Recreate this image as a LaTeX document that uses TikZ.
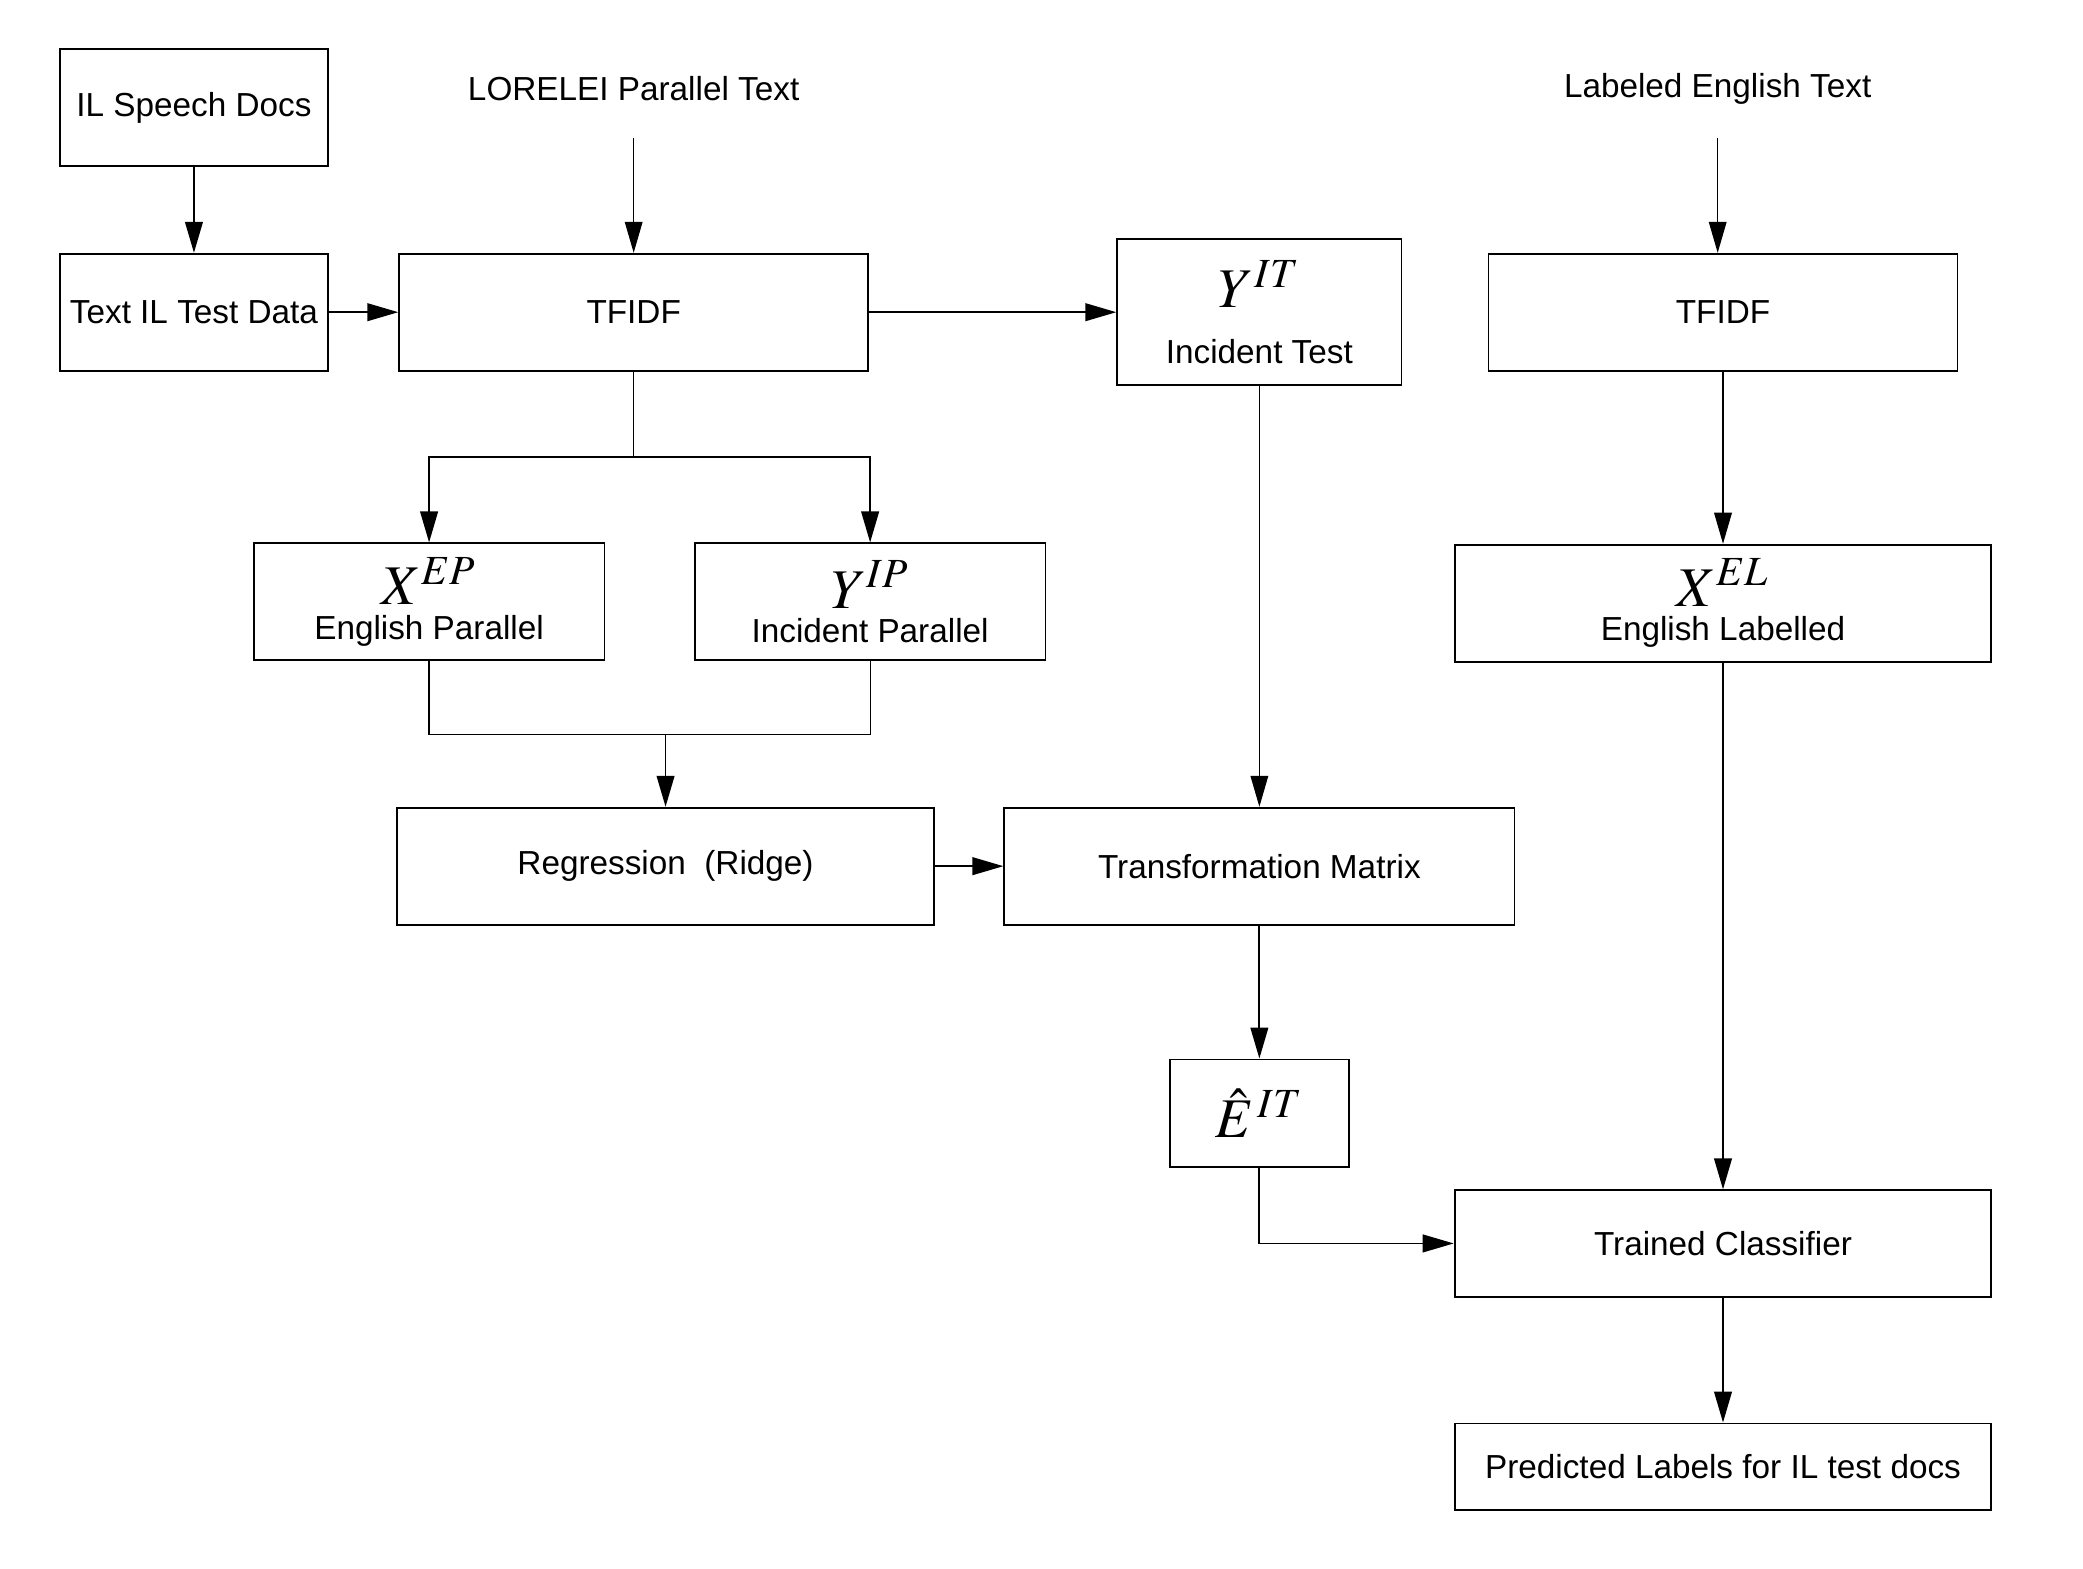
\documentclass[tikz,border=0pt]{standalone}
\usepackage{mathptmx}
\usepackage{fontspec}
\setmainfont{Liberation Sans}
\usetikzlibrary{arrows.meta}

\tikzset{
  boite/.style={draw, line width=0.6pt, inner sep=0pt, align=center,
    font=\fontsize{10.7}{13}\selectfont},
  fleche/.style={-{Triangle[length=3.5mm,width=2mm]}, line width=0.6pt},
  fin/.style={line width=0.35pt},
}
\newcommand{\grand}[1]{{\fontsize{18}{18}\selectfont$#1$}}

\begin{document}
\begin{tikzpicture}[x=0.015cm,y=-0.015cm] % 1 px de la maquette = 0.015 cm

\useasboundingbox (0,0) rectangle (1568,1181);

% --------- COLONNE GAUCHE ----------
\node[boite, minimum width=202*0.15mm, minimum height=88*0.15mm] (ilspeech) at (146,81) {IL Speech Docs};
\node[boite, minimum width=202*0.15mm, minimum height=88*0.15mm] (iltext) at (146,235) {Text IL Test Data};

% --------- TEXTES LIBRES ----------
\node[font=\fontsize{10.7}{13}\selectfont] (lorelei) at (477,67) {LORELEI Parallel Text};
\node[font=\fontsize{10.7}{13}\selectfont] (labeng) at (1293,67) {Labeled English Text};
\coordinate (loreleibas) at (477,104);
\coordinate (labengbas) at (1293,104);

% --------- RANGÉE TFIDF ----------
\node[boite, minimum width=353*0.15mm, minimum height=88*0.15mm] (tfidfa) at (477,235) {TFIDF};
\node[boite, minimum width=214*0.15mm, minimum height=110*0.15mm] (yit) at (948,235)
  {\grand{Y^{IT}}\\[5pt] Incident Test};
\node[boite, minimum width=353*0.15mm, minimum height=88*0.15mm] (tfidfb) at (1297,235) {TFIDF};

% --------- MATRICES ----------
\node[boite, minimum width=264*0.15mm, minimum height=88*0.15mm] (xep) at (323,453)
  {\grand{X^{EP}}\\[-2pt] English Parallel};
\node[boite, minimum width=264*0.15mm, minimum height=88*0.15mm] (yip) at (655,453)
  {\grand{Y^{IP}}\\[-2pt] Incident Parallel};
\node[boite, minimum width=404*0.15mm, minimum height=88*0.15mm] (xel) at (1297,454)
  {\grand{X^{EL}}\\[-2pt] English Labelled};

% --------- REGRESSION ----------
\node[boite, minimum width=404*0.15mm, minimum height=88*0.15mm] (reg) at (501,652) {Regression\ \ (Ridge)};
\node[boite, minimum width=384*0.15mm, minimum height=88*0.15mm] (transfo) at (948,652) {Transformation Matrix};
\node[boite, minimum width=135*0.15mm, minimum height=81*0.15mm] (ehat) at (948,838) {\grand{\hat{E}^{\,IT}}};

% --------- CLASSIFIEUR ----------
\node[boite, minimum width=404*0.15mm, minimum height=80*0.15mm] (trained) at (1297,936) {Trained Classifier};
\node[boite, minimum width=404*0.15mm, minimum height=65*0.15mm] (predict) at (1297,1104) {Predicted Labels for IL test docs};

% Flèches du haut
\draw[fleche] (ilspeech) -- (iltext);
\draw[fleche] (iltext) -- (tfidfa);
\draw[fleche, fin] (loreleibas) -- (tfidfa.north);
\draw[fleche, fin] (labengbas) -- (tfidfb.north -| labengbas);
\draw[fleche] (tfidfa) -- (yit);

% Séparation TFIDF -> X^EP et Y^IP
\coordinate (split) at (477,344);
\draw[fin] (tfidfa.south) -- (split);
\draw[fleche] (split) -| (xep);
\draw[fleche] (split) -| (yip);

% Jonction vers la régression
\coordinate (jonction) at (501,553);
\draw (xep.south) |- (jonction) -| (yip.south);
\draw[fleche] (jonction) -- (reg);

% Colonne droite
\draw[fleche, fin] (tfidfb) -- (xel);
\draw[fleche, fin] (yit) -- (transfo);
\draw[fleche] (reg) -- (transfo);
\draw[fleche] (transfo) -- (ehat);
\draw[fleche] (ehat) |- (trained);
\draw[fleche] (xel) -- (trained);
\draw[fleche] (trained) -- (predict);

\end{tikzpicture}
\end{document}
